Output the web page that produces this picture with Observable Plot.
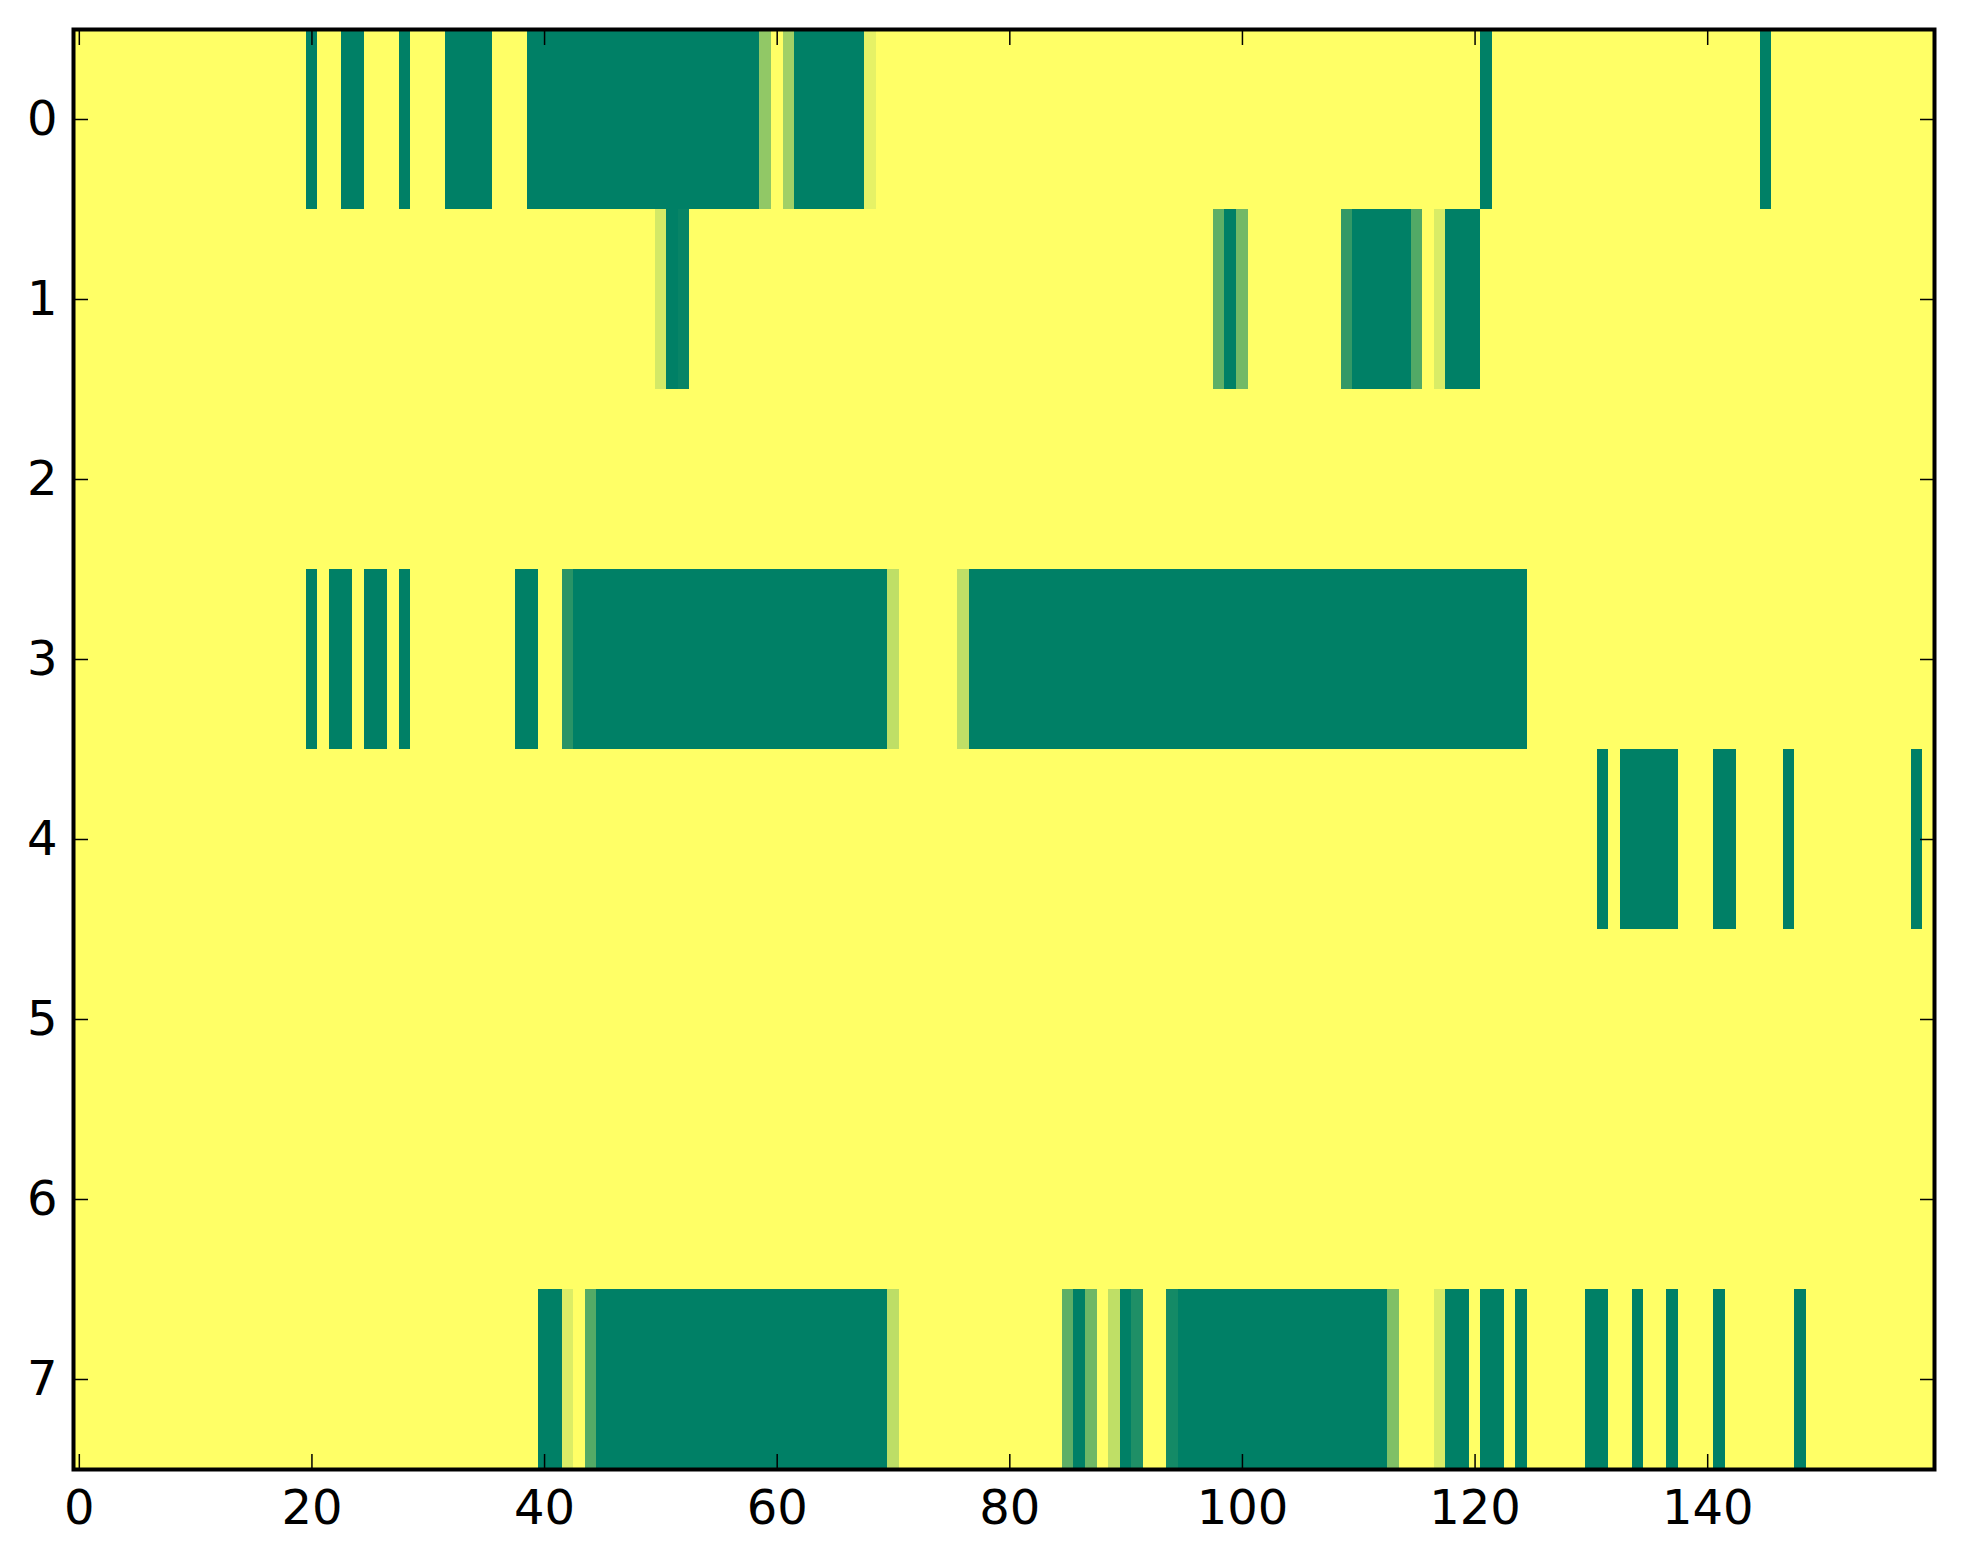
<!DOCTYPE html>
<html>
<head>
<meta charset="utf-8">
<script src="https://cdn.jsdelivr.net/npm/d3@7"></script>
<script src="https://cdn.jsdelivr.net/npm/@observablehq/plot@0.6"></script>
<style>
  html, body { margin: 0; padding: 0; background: #ffffff; }
  #chart { width: 1963px; height: 1564px; }
</style>
</head>
<body>
<div id="chart"></div>
<script>
// Cell values (0 = dark green, 1 = yellow), columns 0..159, one array per row
const row0 = [
  1,1,1,1,1,1,1,1,1,1,  1,1,1,1,1,1,1,1,1,1,
  0,1,1,0,0,1,1,1,0,1,  1,1,0,0,0,0,1,1,1,0,
  0,0,0,0,0,0,0,0,0,0,  0,0,0,0,0,0,0,0,0,0.57,
  1,0.63,0,0,0,0,0,0,0.9,1,  1,1,1,1,1,1,1,1,1,1,
  1,1,1,1,1,1,1,1,1,1,  1,1,1,1,1,1,1,1,1,1,
  1,1,1,1,1,1,1,1,1,1,  1,1,1,1,1,1,1,1,1,1,
  1,0,1,1,1,1,1,1,1,1,  1,1,1,1,1,1,1,1,1,1,
  1,1,1,1,1,0,1,1,1,1,  1,1,1,1,1,1,1,1,1,1
];
const row1 = [
  1,1,1,1,1,1,1,1,1,1,  1,1,1,1,1,1,1,1,1,1,
  1,1,1,1,1,1,1,1,1,1,  1,1,1,1,1,1,1,1,1,1,
  1,1,1,1,1,1,1,1,1,1,  0.83,0,0.03,1,1,1,1,1,1,1,
  1,1,1,1,1,1,1,1,1,1,  1,1,1,1,1,1,1,1,1,1,
  1,1,1,1,1,1,1,1,1,1,  1,1,1,1,1,1,1,1,0.37,0,
  0.45,1,1,1,1,1,1,1,1,0.2,  0,0,0,0,0,0.32,1,0.85,0,0,
  0,1,1,1,1,1,1,1,1,1,  1,1,1,1,1,1,1,1,1,1,
  1,1,1,1,1,1,1,1,1,1,  1,1,1,1,1,1,1,1,1,1
];
const row2 = [
  1,1,1,1,1,1,1,1,1,1,  1,1,1,1,1,1,1,1,1,1,
  1,1,1,1,1,1,1,1,1,1,  1,1,1,1,1,1,1,1,1,1,
  1,1,1,1,1,1,1,1,1,1,  1,1,1,1,1,1,1,1,1,1,
  1,1,1,1,1,1,1,1,1,1,  1,1,1,1,1,1,1,1,1,1,
  1,1,1,1,1,1,1,1,1,1,  1,1,1,1,1,1,1,1,1,1,
  1,1,1,1,1,1,1,1,1,1,  1,1,1,1,1,1,1,1,1,1,
  1,1,1,1,1,1,1,1,1,1,  1,1,1,1,1,1,1,1,1,1,
  1,1,1,1,1,1,1,1,1,1,  1,1,1,1,1,1,1,1,1,1
];
const row3 = [
  1,1,1,1,1,1,1,1,1,1,  1,1,1,1,1,1,1,1,1,1,
  0,1,0,0,1,0,0,1,0,1,  1,1,1,1,1,1,1,1,0,0,
  1,1,0.16,0,0,0,0,0,0,0,  0,0,0,0,0,0,0,0,0,0,
  0,0,0,0,0,0,0,0,0,0,  0.75,1,1,1,1,1,0.75,0,0,0,
  0,0,0,0,0,0,0,0,0,0,  0,0,0,0,0,0,0,0,0,0,
  0,0,0,0,0,0,0,0,0,0,  0,0,0,0,0,0,0,0,0,0,
  0,0,0,0,0,1,1,1,1,1,  1,1,1,1,1,1,1,1,1,1,
  1,1,1,1,1,1,1,1,1,1,  1,1,1,1,1,1,1,1,1,1
];
const row4 = [
  1,1,1,1,1,1,1,1,1,1,  1,1,1,1,1,1,1,1,1,1,
  1,1,1,1,1,1,1,1,1,1,  1,1,1,1,1,1,1,1,1,1,
  1,1,1,1,1,1,1,1,1,1,  1,1,1,1,1,1,1,1,1,1,
  1,1,1,1,1,1,1,1,1,1,  1,1,1,1,1,1,1,1,1,1,
  1,1,1,1,1,1,1,1,1,1,  1,1,1,1,1,1,1,1,1,1,
  1,1,1,1,1,1,1,1,1,1,  1,1,1,1,1,1,1,1,1,1,
  1,1,1,1,1,1,1,1,1,1,  1,0,1,0,0,0,0,0,1,1,
  1,0,0,1,1,1,1,0,1,1,  1,1,1,1,1,1,1,1,0,1
];
const row5 = [
  1,1,1,1,1,1,1,1,1,1,  1,1,1,1,1,1,1,1,1,1,
  1,1,1,1,1,1,1,1,1,1,  1,1,1,1,1,1,1,1,1,1,
  1,1,1,1,1,1,1,1,1,1,  1,1,1,1,1,1,1,1,1,1,
  1,1,1,1,1,1,1,1,1,1,  1,1,1,1,1,1,1,1,1,1,
  1,1,1,1,1,1,1,1,1,1,  1,1,1,1,1,1,1,1,1,1,
  1,1,1,1,1,1,1,1,1,1,  1,1,1,1,1,1,1,1,1,1,
  1,1,1,1,1,1,1,1,1,1,  1,1,1,1,1,1,1,1,1,1,
  1,1,1,1,1,1,1,1,1,1,  1,1,1,1,1,1,1,1,1,1
];
const row6 = [
  1,1,1,1,1,1,1,1,1,1,  1,1,1,1,1,1,1,1,1,1,
  1,1,1,1,1,1,1,1,1,1,  1,1,1,1,1,1,1,1,1,1,
  1,1,1,1,1,1,1,1,1,1,  1,1,1,1,1,1,1,1,1,1,
  1,1,1,1,1,1,1,1,1,1,  1,1,1,1,1,1,1,1,1,1,
  1,1,1,1,1,1,1,1,1,1,  1,1,1,1,1,1,1,1,1,1,
  1,1,1,1,1,1,1,1,1,1,  1,1,1,1,1,1,1,1,1,1,
  1,1,1,1,1,1,1,1,1,1,  1,1,1,1,1,1,1,1,1,1,
  1,1,1,1,1,1,1,1,1,1,  1,1,1,1,1,1,1,1,1,1
];
const row7 = [
  1,1,1,1,1,1,1,1,1,1,  1,1,1,1,1,1,1,1,1,1,
  1,1,1,1,1,1,1,1,1,1,  1,1,1,1,1,1,1,1,1,1,
  0,0,0.86,1,0.33,0,0,0,0,0,  0,0,0,0,0,0,0,0,0,0,
  0,0,0,0,0,0,0,0,0,0,  0.74,1,1,1,1,1,1,1,1,1,
  1,1,1,1,1,0.37,0,0.43,1,0.75,  0,0.12,1,1,0.08,0,0,0,0,0,
  0,0,0,0,0,0,0,0,0,0,  0,0,0,0.5,1,1,1,0.85,0,0,
  1,0,0,1,0,1,1,1,1,1,  0,0,1,1,0,1,1,0,1,1,
  1,0,1,1,1,1,1,1,0,1,  1,1,1,1,1,1,1,1,1,1
];
const rows = [row0, row1, row2, row3, row4, row5, row6, row7];
const xTicks = [0, 20, 40, 60, 80, 100, 120, 140];
const yTicks = [0, 1, 2, 3, 4, 5, 6, 7];

const cells = [];
rows.forEach((vals, r) => vals.forEach((v, c) => cells.push({row: r, col: c, value: v})));

const FONT = "DejaVu Sans";
const noText = () => "";
const intText = d => String(d);

const chart = Plot.plot({
  width: 1963,
  height: 1564,
  marginLeft: 73,
  marginRight: 29,
  marginTop: 29,
  marginBottom: 95,
  x: {domain: [-0.5, rows[0].length - 0.5], label: null},
  y: {domain: [-0.5, rows.length - 0.5], reverse: true, label: null},
  color: {type: "linear", domain: [0, 1], range: ["#008066", "#ffff66"]},
  style: {fontFamily: FONT, fontSize: "48px", background: "#ffffff", color: "#000000", overflow: "visible"},
  marks: [
    Plot.rect(cells, {
      x1: d => d.col - 0.5, x2: d => d.col + 0.5,
      y1: d => d.row - 0.5, y2: d => d.row + 0.5,
      fill: "value", shapeRendering: "crispEdges"
    }),
    Plot.axisX(xTicks, {anchor: "bottom", tickSize: 0, tickPadding: 20, fontSize: 48, tickFormat: intText, label: null}),
    Plot.axisY(yTicks, {anchor: "left", tickSize: 0, tickPadding: 16, fontSize: 48, tickFormat: intText, label: null}),
    Plot.axisX(xTicks, {anchor: "bottom", tickSize: 15, dy: -15, strokeWidth: 1.5, tickFormat: noText, label: null}),
    Plot.axisX(xTicks, {anchor: "top", tickSize: 15, dy: 15, strokeWidth: 1.5, tickFormat: noText, label: null}),
    Plot.axisY(yTicks, {anchor: "left", tickSize: 15, dx: 15, strokeWidth: 1.5, tickFormat: noText, label: null}),
    Plot.axisY(yTicks, {anchor: "right", tickSize: 15, dx: -15, strokeWidth: 1.5, tickFormat: noText, label: null}),
    Plot.frame({stroke: "#000000", strokeWidth: 4})
  ]
});
document.getElementById("chart").appendChild(chart);
</script>
</body>
</html>
